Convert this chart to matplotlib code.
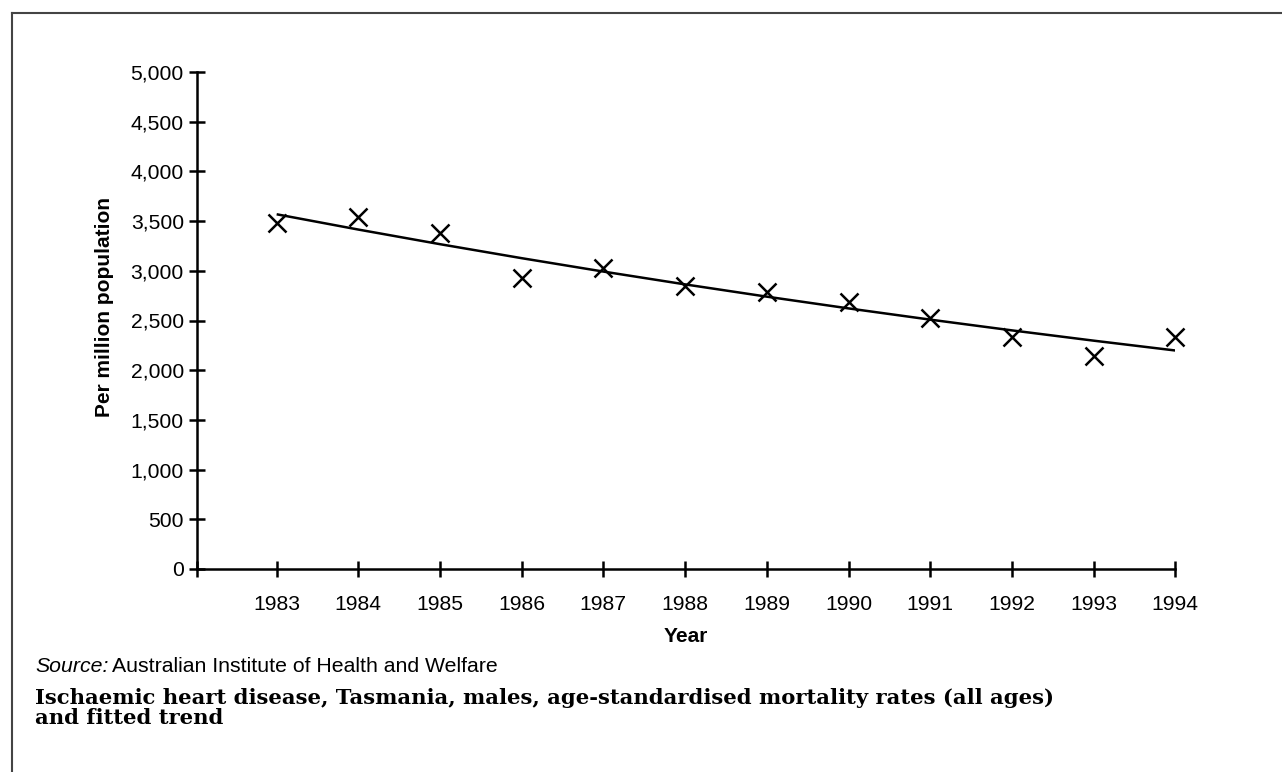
import numpy as np
import matplotlib
matplotlib.use("Agg")
import matplotlib.pyplot as plt
from matplotlib.ticker import FuncFormatter
from matplotlib.lines import Line2D

years = [1983, 1984, 1985, 1986, 1987, 1988, 1989, 1990, 1991, 1992, 1993, 1994]
rates = [3484, 3544, 3377, 2924, 3025, 2847, 2790, 2689, 2528, 2337, 2143, 2337]
y_ticks = [0, 500, 1000, 1500, 2000, 2500, 3000, 3500, 4000, 4500, 5000]

title_line1 = "Ischaemic heart disease, Tasmania, males, age-standardised mortality rates (all ages)"
title_line2 = "and fitted trend"

plt.rcParams['font.family'] = ['Liberation Sans', 'DejaVu Sans']

W, H = 1282, 772
fig = plt.figure(figsize=(W / 100, H / 100), dpi=100)

ax_l, ax_r, ax_t, ax_b = 197, 1175.3, 72, 569
ax = fig.add_axes([ax_l / W, 1 - ax_b / H, (ax_r - ax_l) / W, (ax_b - ax_t) / H])

# exponential (log-linear) fitted trend
yrs = np.array(years, dtype=float)
coef = np.polyfit(yrs, np.log(np.array(rates, dtype=float)), 1)
trend = np.exp(np.polyval(coef, yrs))

ax.plot(years, trend, color='black', lw=1.8, solid_capstyle='butt', zorder=2)
ax.plot(years, rates, linestyle='none', marker='x', markersize=12.5, markeredgewidth=1.8,
        color='black', zorder=3, clip_on=False)

ax.set_xlim(1982.025, 1994)
ax.set_ylim(0, 5000)
ax.set_xticks(years)
ax.set_yticks(y_ticks)
ax.yaxis.set_major_formatter(FuncFormatter(lambda v, p: f"{int(v):,}"))

for s in ['top', 'right']:
    ax.spines[s].set_visible(False)
for s in ['left', 'bottom']:
    ax.spines[s].set_linewidth(1.8)
    ax.spines[s].set_color('black')

ax.tick_params(axis='y', direction='inout', length=11, width=1.8, pad=4,
               labelsize=15.2, colors='black')
ax.tick_params(axis='x', direction='inout', length=11, width=1.8, pad=13,
               labelsize=15.2, colors='black')
# the x-axis also has a tick at its left end (origin)
ax.plot([0], [0], transform=ax.transAxes, marker='|', markersize=11, mew=1.8,
        color='black', clip_on=False)

fig.text(104 / W, 1 - 307 / H, "Per million population", rotation=90, fontsize=15,
         fontweight='bold', ha='center', va='center')
fig.text(686 / W, 1 - 636 / H, "Year", fontsize=15, fontweight='bold',
         ha='center', va='center')

t1 = fig.text(35 / W, 1 - 666 / H, "Source:", fontsize=15.3, style='italic',
              ha='left', va='center')
fig.canvas.draw()
bb = t1.get_window_extent()
fig.text((bb.x1 + 4) / W, 1 - 666 / H, "Australian Institute of Health and Welfare",
         fontsize=15.3, ha='left', va='center')

fig.text(35 / W, 1 - 704 / H, title_line1, fontsize=15.2, fontweight='bold',
         family='DejaVu Serif', ha='left', va='baseline')
fig.text(35 / W, 1 - 724 / H, title_line2, fontsize=15.2, fontweight='bold',
         family='DejaVu Serif', ha='left', va='baseline')

# frame lines (top and left)
fig.add_artist(Line2D([11.5 / W, 1], [1 - 12.7 / H, 1 - 12.7 / H], transform=fig.transFigure,
                      color='#444444', lw=1.5))
fig.add_artist(Line2D([11.5 / W, 11.5 / W], [0, 1 - 12.7 / H], transform=fig.transFigure,
                      color='#444444', lw=1.5))

fig.savefig("out.png", dpi=100)
